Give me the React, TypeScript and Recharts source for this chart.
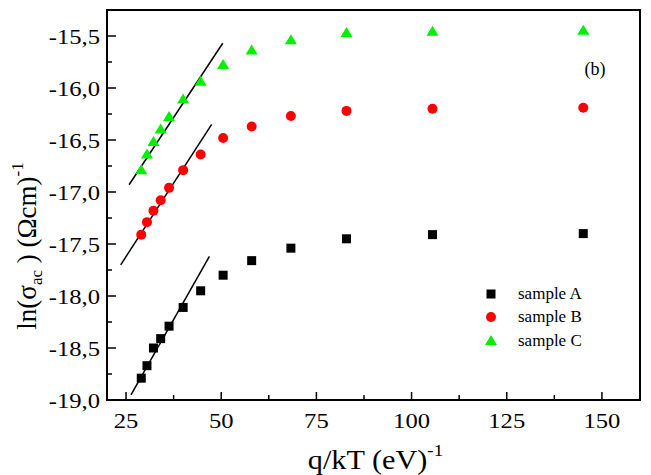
import React from 'react';
import { ScatterChart, Scatter, XAxis, YAxis, ReferenceArea, ReferenceDot, Legend, Label } from 'recharts';

// q/kT values (eV^-1), shared by all three samples
const qOverKT = [29.0, 30.5, 32.2, 34.1, 36.3, 40.0, 44.6, 50.5, 58.0, 68.3, 82.9, 105.5, 145.1];

const lnSigmaA = [-18.79, -18.67, -18.5, -18.41, -18.29, -18.11, -17.95, -17.8, -17.66, -17.54, -17.45, -17.41, -17.4];
const lnSigmaB = [-17.41, -17.29, -17.18, -17.08, -16.96, -16.79, -16.64, -16.48, -16.37, -16.27, -16.22, -16.2, -16.19];
const lnSigmaC = [-16.79, -16.64, -16.52, -16.4, -16.28, -16.11, -15.94, -15.78, -15.64, -15.54, -15.47, -15.46, -15.45];

// linear fits over the high temperature range (end points)
const fitXA = [26.3, 46.9];
const fitYA = [-18.95, -17.62];
const fitXB = [23.6, 47.5];
const fitYB = [-17.7, -16.35];
const fitXC = [25.8, 50.4];
const fitYC = [-16.93, -15.57];

const sampleNames = ['sample A', 'sample B', 'sample C'];

const xTicks = [25, 37.5, 50, 62.5, 75, 87.5, 100, 112.5, 125, 137.5, 150];
const yTicks = [-19, -18.75, -18.5, -18.25, -18, -17.75, -17.5, -17.25, -17, -16.75, -16.5, -16.25, -16, -15.75, -15.5];

const toPoints = (xs: number[], ys: number[]) => xs.map((x, i) => ({ x, y: ys[i] }));

const FONT = '"Liberation Serif", "Times New Roman", serif';
const GREEN = '#00f000';
const RED = '#ff0000';

const Square = (p: any) => <rect x={p.cx - 4.5} y={p.cy - 4.5} width={9} height={9} fill="#000" />;
const Circle = (p: any) => <circle cx={p.cx} cy={p.cy} r={5} fill={RED} />;
const Triangle = (p: any) => (
  <polygon points={`${p.cx},${p.cy - 6} ${p.cx - 6},${p.cy + 4} ${p.cx + 6},${p.cy + 4}`} fill={GREEN} />
);
const NoShape = () => <g />;

const markers = [Square, Circle, Triangle];

const XTick = (props: any) => {
  const { x, y, payload } = props;
  const major = payload.value % 25 === 0;
  return (
    <g>
      <line x1={x} y1={y} x2={x} y2={y - (major ? 8 : 5)} stroke="#000" strokeWidth={1.5} />
      {major && (
        <text transform={`translate(${x},${y + 28}) scale(1.12,1)`} textAnchor="middle" fontSize={22} fontFamily={FONT} fill="#000">
          {payload.value}
        </text>
      )}
    </g>
  );
};

const YTick = (props: any) => {
  const { x, y, payload } = props;
  const v = payload.value;
  const major = Math.abs(v * 2 - Math.round(v * 2)) < 1e-6;
  return (
    <g>
      <line x1={x} y1={y} x2={x + (major ? 9 : 5)} y2={y} stroke="#000" strokeWidth={1.5} />
      {major && (
        <text transform={`translate(${x - 7},${y}) scale(1.12,1)`} textAnchor="end" dy="0.35em" fontSize={22} fontFamily={FONT} fill="#000">
          {v.toFixed(1).replace('.', ',')}
        </text>
      )}
    </g>
  );
};

const XTitle = (props: any) => {
  const { viewBox } = props;
  const cx = viewBox.x + viewBox.width / 2 + 2;
  return (
    <text transform={`translate(${cx},469) scale(1.12,1)`} textAnchor="middle" fontSize={27} fontFamily={FONT} fill="#000">
      q/kT (eV)
      <tspan fontSize={17} dy={-13}>-1</tspan>
    </text>
  );
};

const YTitle = () => {
  const cx = 36;
  const cy = 246;
  return (
    <text transform={`rotate(-90 ${cx} ${cy})`} x={cx} y={cy} textAnchor="middle" fontSize={27} fontFamily={FONT} fill="#000">
      ln(σ
      <tspan fontSize={17} dy={6}>ac</tspan>
      <tspan dy={-6}> ) (Ωcm)</tspan>
      <tspan fontSize={17} dy={-13}>-1</tspan>
    </text>
  );
};

const renderLegend = () => (
  <div style={{ fontFamily: FONT, fontSize: 17, color: '#000' }}>
    {sampleNames.map((name, i) => {
      const M = markers[i];
      return (
        <div key={name} style={{ display: 'flex', alignItems: 'center', height: 23.5 }}>
          <svg width={16} height={16} style={{ display: 'block' }}>
            <M cx={8} cy={8} />
          </svg>
          <span style={{ marginLeft: 19 }}>{name}</span>
        </div>
      );
    })}
  </div>
);

export default function App() {
  const series = [lnSigmaA, lnSigmaB, lnSigmaC];
  const fits = [
    [fitXA, fitYA],
    [fitXB, fitYB],
    [fitXC, fitYC],
  ];
  return (
    <div style={{ position: 'absolute', left: 0, top: 0, width: 651, height: 475, background: '#fff' }}>
      <ScatterChart width={651} height={475} margin={{ top: 10, right: 11, bottom: 0, left: 0 }}>
        <ReferenceArea x1={20} x2={160} y1={-19} y2={-15.25} fill="none" fillOpacity={0} stroke="#000" strokeWidth={2} />
        <XAxis
          type="number"
          dataKey="x"
          domain={[20, 160]}
          ticks={xTicks}
          interval={0}
          height={75}
          tickSize={0}
          tickMargin={0}
          tick={XTick}
          axisLine={{ stroke: '#000', strokeWidth: 2 }}
        >
          <Label content={XTitle} />
        </XAxis>
        <YAxis
          type="number"
          dataKey="y"
          domain={[-19, -15.25]}
          ticks={yTicks}
          interval={0}
          width={107}
          tickSize={0}
          tickMargin={0}
          tick={YTick}
          axisLine={{ stroke: '#000', strokeWidth: 2 }}
        >
          <Label content={YTitle} />
        </YAxis>
        {fits.map(([fx, fy], i) => (
          <Scatter
            key={'fit' + i}
            data={toPoints(fx, fy)}
            line={{ stroke: '#000', strokeWidth: 1.5 }}
            shape={NoShape}
            legendType="none"
            isAnimationActive={false}
          />
        ))}
        {series.map((ys, i) => (
          <Scatter
            key={sampleNames[i]}
            name={sampleNames[i]}
            data={toPoints(qOverKT, ys)}
            shape={markers[i]}
            isAnimationActive={false}
          />
        ))}
        <ReferenceDot
          x={148.2}
          y={-15.81}
          r={0}
          fill="none"
          stroke="none"
          label={{ value: '(b)', position: 'center', fontSize: 18, fontFamily: FONT, fill: '#000' }}
        />
        <Legend
          layout="vertical"
          align="center"
          verticalAlign="middle"
          content={renderLegend}
          wrapperStyle={{ left: 483, top: 282, width: 130 }}
        />
      </ScatterChart>
    </div>
  );
}
